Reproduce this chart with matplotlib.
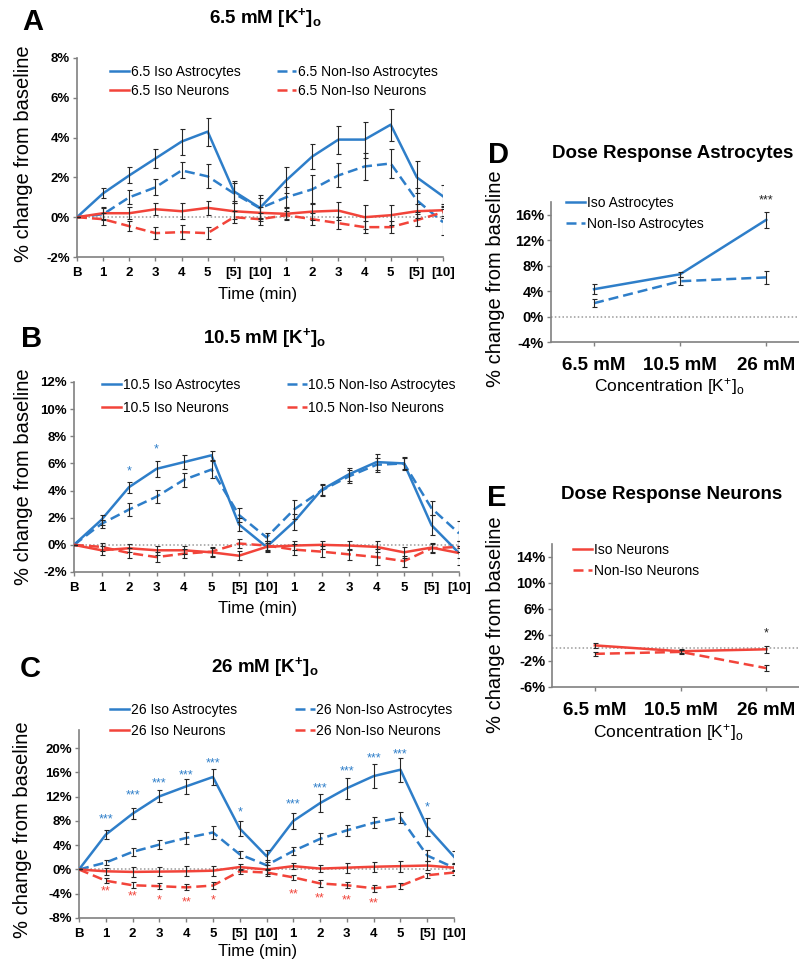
import matplotlib
matplotlib.use("Agg")
import matplotlib.pyplot as plt
from matplotlib.lines import Line2D
import numpy as np

plt.rcParams["font.family"] = ["Liberation Sans", "DejaVu Sans"]
plt.rcParams["mathtext.fontset"] = "custom"
plt.rcParams["mathtext.rm"] = "Liberation Sans"
plt.rcParams["mathtext.bf"] = "Liberation Sans:bold"
plt.rcParams["mathtext.default"] = "regular"

# ---- data (values in % change from baseline) ----
time_labels = ["B", "1", "2", "3", "4", "5", "[5]", "[10]",
               "1", "2", "3", "4", "5", "[5]", "[10]"]

# panel A, 6.5 mM
a_iso_astro = [0, 1.2, 2.1, 2.95, 3.8, 4.3, 1.3, 0.47, 1.85, 3.05, 3.9, 3.9, 4.65, 2.0, 1.05]
a_iso_astro_err = [0, 0.25, 0.4, 0.5, 0.65, 0.7, 0.5, 0.65, 0.65, 0.65, 0.7, 0.9, 0.8, 0.8, 0.55]
a_non_astro = [0, 0.15, 1.0, 1.5, 2.35, 2.05, 1.2, 0.45, 1.0, 1.4, 2.1, 2.55, 2.7, 0.85, -0.25]
a_non_astro_err = [0, 0.3, 0.35, 0.4, 0.4, 0.6, 0.5, 0.5, 0.5, 0.7, 0.6, 0.7, 0.75, 0.6, 0.65]
a_iso_neur = [0, 0.2, 0.2, 0.4, 0.3, 0.47, 0.3, 0.22, 0.17, 0.28, 0.33, 0.0, 0.1, 0.3, 0.35]
a_iso_neur_err = [0, 0.3, 0.3, 0.3, 0.4, 0.35, 0.4, 0.3, 0.3, 0.4, 0.45, 0.6, 0.5, 0.35, 0.3]
a_non_neur = [0, -0.1, -0.45, -0.8, -0.75, -0.8, 0.0, -0.1, 0.1, -0.1, -0.3, -0.5, -0.5, -0.15, 0.25]
a_non_neur_err = [0, 0.3, 0.25, 0.3, 0.35, 0.3, 0.3, 0.3, 0.2, 0.3, 0.3, 0.3, 0.3, 0.3, 0.3]

# panel B, 10.5 mM
b_iso_astro = [0, 1.85, 4.25, 5.6, 6.1, 6.6, 1.5, -0.15, 1.7, 4.05, 5.2, 6.1, 6.0, 1.45, -0.6]
b_iso_astro_err = [0, 0.35, 0.4, 0.6, 0.5, 0.35, 0.5, 0.4, 0.6, 0.4, 0.5, 0.6, 0.4, 0.75, 0.9]
b_non_astro = [0, 1.55, 2.6, 3.55, 4.8, 5.55, 2.2, 0.55, 2.6, 4.0, 5.05, 5.9, 6.0, 2.7, 0.85]
b_non_astro_err = [0, 0.3, 0.5, 0.5, 0.5, 0.6, 0.5, 0.3, 0.7, 0.4, 0.5, 0.5, 0.5, 0.5, 0.9]
b_iso_neur = [0, -0.4, -0.25, -0.4, -0.4, -0.55, -0.8, -0.15, -0.05, 0.0, -0.05, -0.15, -0.55, -0.2, -0.6]
b_iso_neur_err = [0, 0.35, 0.3, 0.35, 0.3, 0.35, 0.35, 0.3, 0.3, 0.3, 0.35, 0.4, 0.4, 0.35, 0.4]
b_non_neur = [0, -0.15, -0.6, -0.9, -0.65, -0.5, 0.1, -0.05, -0.35, -0.5, -0.7, -0.9, -1.2, -0.25, -0.15]
b_non_neur_err = [0, 0.3, 0.35, 0.35, 0.35, 0.35, 0.35, 0.3, 0.4, 0.4, 0.4, 0.6, 0.4, 0.35, 0.4]
b_blue_stars = {2: (5.4, "*"), 3: (7.0, "*")}

# panel C, 26 mM
c_iso_astro = [0, 5.75, 9.2, 12.05, 13.7, 15.25, 6.75, 2.2, 8.0, 10.95, 13.4, 15.4, 16.45, 7.0, 2.1]
c_iso_astro_err = [0, 0.8, 0.9, 1.0, 1.2, 1.3, 1.3, 1.0, 1.3, 1.5, 1.7, 2.0, 2.0, 1.5, 1.0]
c_non_astro = [0, 1.15, 2.9, 4.1, 5.2, 6.1, 2.5, 0.7, 3.05, 5.05, 6.45, 7.7, 8.55, 2.3, 0.3]
c_non_astro_err = [0, 0.4, 0.7, 0.8, 1.0, 1.1, 0.6, 0.8, 0.6, 0.9, 0.9, 0.9, 0.9, 0.9, 0.6]
c_iso_neur = [0, -0.3, -0.4, -0.35, -0.3, -0.2, 0.4, 0.0, 0.55, 0.15, 0.3, 0.45, 0.55, 0.65, 0.3]
c_iso_neur_err = [0, 0.6, 0.8, 0.8, 0.8, 0.8, 0.5, 0.8, 0.5, 0.6, 0.8, 0.8, 0.9, 0.7, 0.6]
c_non_neur = [0, -1.85, -2.6, -2.75, -2.95, -2.65, -0.3, -0.5, -1.3, -2.3, -2.6, -3.1, -2.7, -0.95, -0.5]
c_non_neur_err = [0, 0.4, 0.5, 0.5, 0.5, 0.6, 0.4, 0.5, 0.4, 0.6, 0.5, 0.6, 0.5, 0.4, 0.4]
c_blue_stars = {1: (8.3, "***"), 2: (12.2, "***"), 3: (14.25, "***"), 4: (15.55, "***"),
                5: (17.5, "***"), 6: (9.4, "*"), 8: (10.7, "***"), 9: (13.3, "***"),
                10: (16.15, "***"), 11: (18.3, "***"), 12: (19.05, "***"), 13: (10.3, "*")}
c_red_stars = {1: (-3.7, "**"), 2: (-4.4, "**"), 3: (-5.05, "*"), 4: (-5.5, "**"),
               5: (-5.15, "*"), 8: (-4.1, "**"), 9: (-4.75, "**"), 10: (-5.15, "**"),
               11: (-5.6, "**")}

# dose response panels
conc_labels = ["6.5 mM", "10.5 mM", "26 mM"]
d_iso = [4.3, 6.65, 15.2]
d_iso_err = [0.8, 0.4, 1.3]
d_non = [2.1, 5.55, 6.15]
d_non_err = [0.6, 0.6, 1.0]
e_iso = [0.4, -0.5, -0.2]
e_iso_err = [0.4, 0.3, 0.5]
e_non = [-0.9, -0.6, -3.1]
e_non_err = [0.3, 0.3, 0.5]

BLUE = "#2e7ec9"
RED = "#f2443a"
ERR = "#262626"
SPINE = "#808080"
W, H = 799, 964


def fx(px):
    return px / W


def fy(py):
    return 1 - py / H


fig = plt.figure(figsize=(W / 100, H / 100), dpi=100)


def make_ax(left, right, top, bottom):
    return fig.add_axes([fx(left), fy(bottom), fx(right) - fx(left), fy(top) - fy(bottom)])


def style(ax, ytick_size):
    for s in ["top", "right"]:
        ax.spines[s].set_visible(False)
    for s in ["left", "bottom"]:
        ax.spines[s].set_color(SPINE)
        ax.spines[s].set_linewidth(1.2)
    ax.tick_params(axis="both", color=SPINE, length=3, width=1)
    ax.tick_params(axis="y", labelsize=ytick_size, pad=2)
    for t in ax.get_yticklabels():
        t.set_fontweight("bold")
    ax.axhline(0, color="#9a9a9a", ls=(0, (1, 1.5)), lw=1.1, zorder=1)


def series(ax, x, y, err, color, dashed):
    ls = (0, (4, 2)) if dashed else "-"
    ax.plot(x, y, color=color, lw=1.8, ls=ls, zorder=3)
    ax.errorbar(x, y, yerr=err, fmt="none", ecolor=ERR, elinewidth=0.8,
                capsize=1.8, capthick=0.8, zorder=4)


def pct(ax, ticks):
    ax.set_yticks(ticks)
    ax.set_yticklabels([f"{t}%" for t in ticks], fontweight="bold")


def time_panel(ax, iso_a, iso_a_e, non_a, non_a_e, iso_n, iso_n_e, non_n, non_n_e,
               conc, ylim, ticks, leg_xy, leg_cs, leg_ls):
    x = np.arange(len(time_labels))
    series(ax, x, iso_a, iso_a_e, BLUE, False)
    series(ax, x, non_a, non_a_e, BLUE, True)
    series(ax, x, iso_n, iso_n_e, RED, False)
    series(ax, x, non_n, non_n_e, RED, True)
    ax.set_xlim(0, len(time_labels) - 1)
    ax.set_ylim(*ylim)
    pct(ax, ticks)
    ax.set_xticks(x)
    ax.set_xticklabels(time_labels, fontsize=9.5, fontweight="bold")
    ax.tick_params(axis="x", pad=4)
    style(ax, 9.5)
    handles = [Line2D([], [], color=BLUE, lw=1.8),
               Line2D([], [], color=RED, lw=1.8),
               Line2D([], [], color=BLUE, lw=1.8, ls=(0, (4, 2))),
               Line2D([], [], color=RED, lw=1.8, ls=(0, (4, 2)))]
    labels = [f"{conc} Iso Astrocytes", f"{conc} Iso Neurons",
              f"{conc} Non-Iso Astrocytes", f"{conc} Non-Iso Neurons"]
    ax.legend(handles, labels, ncol=2, frameon=False, fontsize=10,
              loc="upper left", bbox_to_anchor=(fx(leg_xy[0]), fy(leg_xy[1])),
              bbox_transform=fig.transFigure, borderpad=0, borderaxespad=0,
              handlelength=1.4, handletextpad=0.1, columnspacing=leg_cs,
              labelspacing=leg_ls)


def dose_panel(ax, iso, iso_e, non, non_e, color, names, ylim, ticks, leg_xy):
    x = np.arange(len(conc_labels)) + 0.5
    series(ax, x, iso, iso_e, color, False)
    series(ax, x, non, non_e, color, True)
    ax.set_xlim(0, 2.88)
    ax.set_ylim(*ylim)
    pct(ax, ticks)
    ax.set_xticks(x)
    ax.set_xticklabels(conc_labels, fontsize=13.5, fontweight="bold")
    ax.tick_params(axis="x", length=0, pad=8)
    style(ax, 10.5)
    handles = [Line2D([], [], color=color, lw=1.8),
               Line2D([], [], color=color, lw=1.8, ls=(0, (4, 2)))]
    ax.legend(handles, names, frameon=False, fontsize=10, loc="upper left",
              bbox_to_anchor=(fx(leg_xy[0]), fy(leg_xy[1])),
              bbox_transform=fig.transFigure, borderpad=0, borderaxespad=0,
              handlelength=1.4, handletextpad=0.1, labelspacing=0.5)


def labels(ax, ylab_xy, xlab_xy, xlabel, xsize):
    ax.set_ylabel("% change from baseline", fontsize=14.5)
    ax.yaxis.set_label_coords(fx(ylab_xy[0]), fy(ylab_xy[1]), transform=fig.transFigure)
    ax.set_xlabel(xlabel, fontsize=xsize)
    ax.xaxis.set_label_coords(fx(xlab_xy[0]), fy(xlab_xy[1]), transform=fig.transFigure)


def stars(ax, d, color):
    for xi, (yv, s) in d.items():
        ax.text(xi, yv, s, color=color, fontsize=9, ha="center", va="center", zorder=5)


# ---- panel A ----
axA = make_ax(77, 443, 58, 257)
time_panel(axA, a_iso_astro, a_iso_astro_err, a_non_astro, a_non_astro_err,
           a_iso_neur, a_iso_neur_err, a_non_neur, a_non_neur_err, "6.5",
           (-2, 8), list(range(-2, 9, 2)), (110, 65), 2.6, 0.35)
labels(axA, (33, 154), (258, 287), "Time (min)", 12)

# ---- panel B ----
axB = make_ax(74, 459, 382, 572)
time_panel(axB, b_iso_astro, b_iso_astro_err, b_non_astro, b_non_astro_err,
           b_iso_neur, b_iso_neur_err, b_non_neur, b_non_neur_err, "10.5",
           (-2, 12), list(range(-2, 13, 2)), (102, 378), 3.4, 0.65)
stars(axB, b_blue_stars, BLUE)
labels(axB, (33, 477), (258, 601), "Time (min)", 12)

# ---- panel C ----
axC = make_ax(79, 454, 730, 918)
time_panel(axC, c_iso_astro, c_iso_astro_err, c_non_astro, c_non_astro_err,
           c_iso_neur, c_iso_neur_err, c_non_neur, c_non_neur_err, "26",
           (-8, 23), list(range(-8, 21, 4)), (110, 703), 4.2, 0.5)
stars(axC, c_blue_stars, BLUE)
stars(axC, c_red_stars, RED)
labels(axC, (32, 830), (258, 944), "Time (min)", 12)

# ---- panel D ----
axD = make_ax(551, 799, 202, 342)
dose_panel(axD, d_iso, d_iso_err, d_non, d_non_err, BLUE,
           ["Iso Astrocytes", "Non-Iso Astrocytes"], (-4, 18), list(range(-4, 17, 4)), (566, 196))
axD.text(2.5, 18.2, "***", color="#222222", fontsize=9, ha="center", va="center")
labels(axD, (505, 279), (669, 376), "Concentration [K$^{+}$]$_{o}$", 12.5)

# ---- panel E ----
axE = make_ax(552, 799, 544, 687)
dose_panel(axE, e_iso, e_iso_err, e_non, e_non_err, RED,
           ["Iso Neurons", "Non-Iso Neurons"], (-6, 16), list(range(-6, 15, 4)), (573, 543))
axE.text(2.5, 2.2, "*", color="#222222", fontsize=9, ha="center", va="center")
labels(axE, (505, 625), (668, 722), "Concentration [K$^{+}$]$_{o}$", 12.5)

# ---- titles and panel letters ----
tkw = dict(fontsize=13.5, fontweight="bold", ha="center", va="center")
fig.text(fx(265), fy(18), r"6.5 mM [K$^{\mathbf{+}}$]$_{\mathbf{o}}$", **tkw)
fig.text(fx(265), fy(338), r"10.5 mM [K$^{\mathbf{+}}$]$_{\mathbf{o}}$", **tkw)
fig.text(fx(265), fy(667), r"26 mM [K$^{\mathbf{+}}$]$_{\mathbf{o}}$", **tkw)
fig.text(fx(673), fy(153), "Dose Response Astrocytes", **tkw)
fig.text(fx(672), fy(495), "Dose Response Neurons", **tkw)

lkw = dict(fontsize=21, fontweight="bold", ha="center", va="center")
for letter, (px, py) in {"A": (33, 22), "B": (32, 339), "C": (30, 669),
                         "D": (498, 155), "E": (497, 498)}.items():
    fig.text(fx(px), fy(py), letter, **lkw)

fig.savefig("out.png", dpi=100)
